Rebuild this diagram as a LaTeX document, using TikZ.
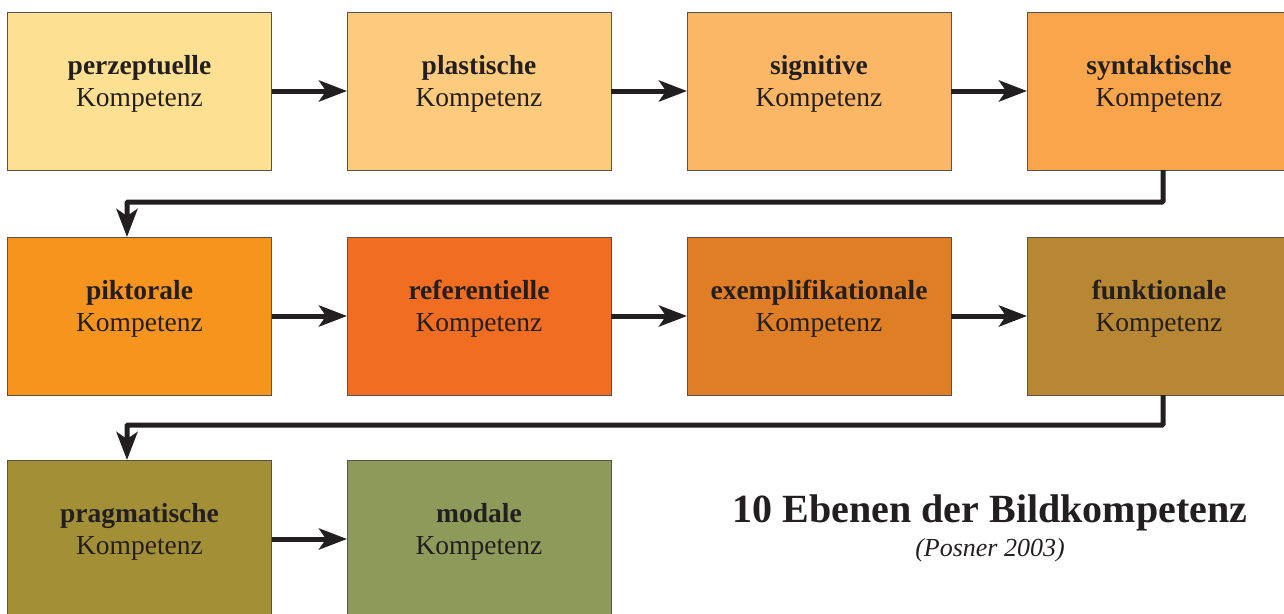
\documentclass[tikz,border=0pt]{standalone}
\usepackage{fontspec}
\setmainfont{Liberation Serif}
\usetikzlibrary{arrows.meta}

\definecolor{ink}{HTML}{231F20}
\definecolor{edge}{HTML}{5A524A}
\definecolor{cA}{HTML}{FDE091}
\definecolor{cB}{HTML}{FDCB7D}
\definecolor{cC}{HTML}{FBB765}
\definecolor{cD}{HTML}{F8A54B}
\definecolor{cE}{HTML}{F7941D}
\definecolor{cF}{HTML}{F06D22}
\definecolor{cG}{HTML}{E07E26}
\definecolor{cH}{HTML}{B88733}
\definecolor{cI}{HTML}{A38F35}
\definecolor{cJ}{HTML}{8E9A5A}

\tikzset{
  level/.style={draw=edge, line width=0.8pt, minimum width=264pt, minimum height=158pt,
    inner sep=0pt, outer sep=0pt},
  lbl/.style={text=ink, align=center, font=\fontsize{27.5}{32}\selectfont, yshift=7pt},
  conn/.style={draw=ink, line width=5pt, -{Stealth[length=28pt,width=21pt,inset=7pt]}},
  elbow/.style={conn, rounded corners=1pt},
}

\newcommand{\lvl}[1]{\textbf{#1}\\Kompetenz}

\begin{document}
\begin{tikzpicture}[x=1pt, y=-1pt]
  \clip (0,0) rectangle (1284,613);
  \fill[white] (0,0) rectangle (1284,613);

  % first row
  \node[level, fill=cA, label={[lbl]center:\lvl{perzeptuelle}}] (b1) at (139.5,91) {};
  \node[level, fill=cB, label={[lbl]center:\lvl{plastische}}] (b2) at (479,91) {};
  \node[level, fill=cC, label={[lbl]center:\lvl{signitive}}] (b3) at (819,91) {};
  \node[level, fill=cD, label={[lbl]center:\lvl{syntaktische}}] (b4) at (1159,91) {};
  % second row
  \node[level, fill=cE, label={[lbl]center:\lvl{piktorale}}] (b5) at (139.5,316) {};
  \node[level, fill=cF, label={[lbl]center:\lvl{referentielle}}] (b6) at (479,316) {};
  \node[level, fill=cG, label={[lbl]center:\lvl{exemplifikationale}}] (b7) at (819,316) {};
  \node[level, fill=cH, label={[lbl]center:\lvl{funktionale}}] (b8) at (1159,316) {};
  % third row
  \node[level, fill=cI, label={[lbl]center:\lvl{pragmatische}}] (b9) at (139.5,539) {};
  \node[level, fill=cJ, label={[lbl]center:\lvl{modale}}] (b10) at (479,539) {};

  % horizontal steps
  \draw[conn] (b1.east) -- (b2.west);
  \draw[conn] (b2.east) -- (b3.west);
  \draw[conn] (b3.east) -- (b4.west);
  \draw[conn] (b5.east) -- (b6.west);
  \draw[conn] (b6.east) -- (b7.west);
  \draw[conn] (b7.east) -- (b8.west);
  \draw[conn] (b9.east) -- (b10.west);

  % row changes
  \coordinate (k1) at (1163,202);
  \coordinate (k2) at (127,202);
  \coordinate (k3) at (1163,425);
  \coordinate (k4) at (127,425);
  \draw[elbow] (b4.south -| k1) -- (k1) -- (k2) -- (k2 |- b5.north);
  \draw[elbow] (b8.south -| k3) -- (k3) -- (k4) -- (k4 |- b9.north);

  % title
  \node[text=ink, font=\fontsize{40}{46}\selectfont\bfseries, anchor=base] (title) at (990,522)
    {10 Ebenen der Bildkompetenz};
  \node[text=ink, font=\fontsize{26}{30}\selectfont\itshape, anchor=base] (source) at (990,556)
    {(Posner 2003)};
\end{tikzpicture}
\end{document}
